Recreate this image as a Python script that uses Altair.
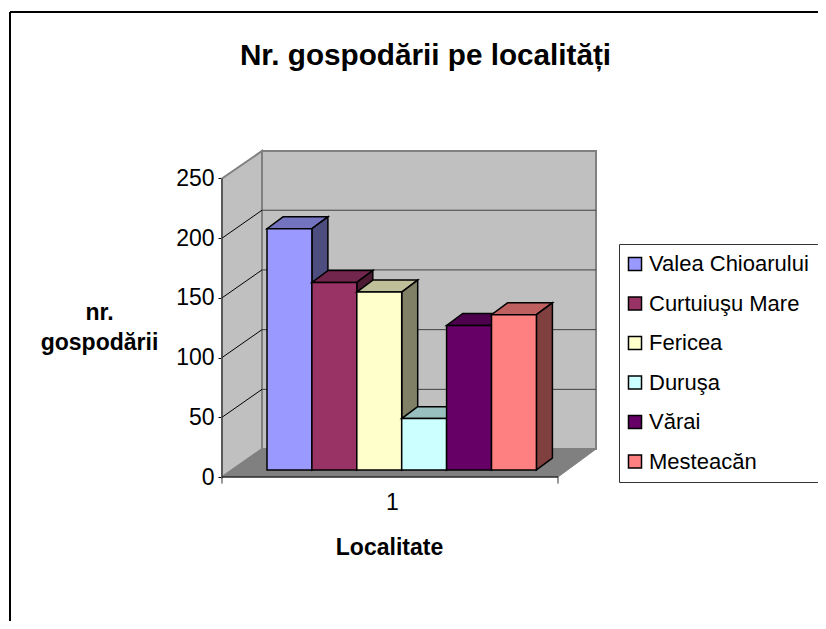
import altair as alt

title_text = "Nr. gospodării pe localități"
categories = ["Valea Chioarului", "Curtuiuşu Mare", "Fericea", "Duruşa", "Vărai", "Mesteacăn"]
values = [202, 157, 149, 43, 121, 130]
front_colors = ["#9999FF", "#993366", "#FFFFCC", "#CCFFFF", "#660066", "#FF8080"]
top_colors = ["#7373BF", "#73264D", "#BFBF99", "#99BFBF", "#4D004D", "#BF6060"]
side_colors = ["#4D4D80", "#4D1A33", "#808066", "#668080", "#330033", "#804040"]
y_ticks = [0, 50, 100, 150, 200, 250]
x_tick_labels = ["1"]

FONT = "Liberation Sans"
W, H = 374, 326          # plot area: left wall front corner to back wall corner
X_MAX, Y_MAX = 374, 273
FLOOR_X = 336            # front edge of the floor
WALL_DX, WALL_DY = 40, 23.4   # depth of the box
BAR_START, BAR_W = 45, 44.9
BAR_BASE = 5.9           # bars stand this far above the front of the floor
BAR_DX, BAR_DY = 16, 10
TOTAL_W, TOTAL_H = 810, 613
PAD_L, PAD_T = 214, 143

x_scale = alt.Scale(domain=[0, X_MAX], nice=False, zero=False)
y_scale = alt.Scale(domain=[0, Y_MAX], nice=False, zero=False)
fill_scale = alt.Scale(domain=categories, range=front_colors)

x_axis = alt.Axis(
    values=[170], labelExpr="'" + x_tick_labels[0] + "'", ticks=False, domain=False, grid=False,
    labelFont=FONT, labelFontSize=23, labelColor="black", labelPadding=14, labelAngle=0,
    title="Localitate", titleFont=FONT, titleFontSize=23, titleFontWeight="bold", titleColor="black",
    titleX=167, titleY=70, titleAlign="center", titleBaseline="middle",
)
y_axis = alt.Axis(
    values=y_ticks, domain=False, grid=False, ticks=True, tickSize=4, tickColor="black",
    tickWidth=1, labelFont=FONT, labelFontSize=23, labelColor="black", labelPadding=4,
    title=["nr.", "gospodării"], titleFont=FONT, titleFontSize=23, titleFontWeight="bold",
    titleColor="black", titleAngle=0, titleAlign="center", titleBaseline="middle",
    titleX=-123, titleY=161, titleLineHeight=30,
)


def X(field="x"):
    return alt.X(f"{field}:Q", scale=x_scale, axis=x_axis)


def Y(field="y"):
    return alt.Y(f"{field}:Q", scale=y_scale, axis=y_axis)


layers = []

# page frame of the chart
px_left, px_right = -(222 - 10), 818 - 222
unit = H / Y_MAX
y_top, y_bot = (477 - 12) / unit, (477 - 621) / unit
layers.append(
    alt.Chart(alt.Data(values=[{"x": px_left, "y": y_top, "y2": y_bot}]))
    .mark_rule(color="black", strokeWidth=2)
    .encode(x=X(), y=Y(), y2="y2:Q")
)
layers.append(
    alt.Chart(alt.Data(values=[{"x": px_left, "x2": px_right, "y": y_top}]))
    .mark_rule(color="black", strokeWidth=2)
    .encode(x=X(), x2="x2:Q", y=Y())
)
# chart title
layers.append(
    alt.Chart(alt.Data(values=[{"x": 203.5, "y": (477 - 56) / unit, "t": title_text}]))
    .mark_text(font=FONT, fontSize=29.7, fontWeight="bold", color="black", align="center", baseline="middle")
    .encode(x=X(), y=Y(), text="t:N")
)

# back wall
layers.append(
    alt.Chart(alt.Data(values=[{"x": WALL_DX, "x2": X_MAX, "y": WALL_DY, "y2": Y_MAX}]))
    .mark_rect(fill="#C0C0C0", stroke="#808080", strokeWidth=2)
    .encode(x=X(), x2="x2:Q", y=Y(), y2="y2:Q")
)
# left wall
layers.append(
    alt.Chart(alt.Data(values=[
        {"x": 0, "y": 0, "y2": y_ticks[-1]},
        {"x": WALL_DX, "y": WALL_DY, "y2": Y_MAX},
    ]))
    .mark_area(fill="#C0C0C0", stroke="#808080", strokeWidth=2)
    .encode(x=X(), y=Y(), y2="y2:Q")
)
# floor
layers.append(
    alt.Chart(alt.Data(values=[
        {"x": 0, "x2": FLOOR_X, "y": 0},
        {"x": WALL_DX, "x2": X_MAX, "y": WALL_DY},
    ]))
    .mark_area(orient="horizontal", fill="#808080", stroke="#808080", strokeWidth=1)
    .encode(x=X(), x2="x2:Q", y=Y())
)
# gridlines on both walls
wall_lines = []
for v in y_ticks[1:-1]:
    wall_lines.append({"v": v, "x": 0, "y": v})
    wall_lines.append({"v": v, "x": WALL_DX, "y": v + WALL_DY})
layers.append(
    alt.Chart(alt.Data(values=wall_lines))
    .mark_line(color="black", strokeWidth=1)
    .encode(x=X(), y=Y(), detail="v:Q")
)
layers.append(
    alt.Chart(alt.Data(values=[{"x": WALL_DX, "x2": X_MAX, "y": v + WALL_DY} for v in y_ticks[1:-1]]))
    .mark_rule(color="#404040", strokeWidth=1)
    .encode(x=X(), x2="x2:Q", y=Y())
)
# left axis line, front floor edge and its end ticks
layers.append(
    alt.Chart(alt.Data(values=[{"x": 0, "y": -5.5, "y2": y_ticks[-1]}, {"x": FLOOR_X, "y": -5.5, "y2": 0}]))
    .mark_rule(color="#333333", strokeWidth=1)
    .encode(x=X(), y=Y(), y2="y2:Q")
)
layers.append(
    alt.Chart(alt.Data(values=[{"x": 0, "x2": FLOOR_X, "y": 0}]))
    .mark_rule(color="black", strokeWidth=1)
    .encode(x=X(), x2="x2:Q", y=Y())
)

# bars: each one paints its top, its side, then its front
legend = alt.Legend(
    title=None, orient="none", legendX=619 - 222, legendY=244 - 151,
    labelFont=FONT, labelFontSize=22, labelColor="black", labelLimit=400, labelOffset=3,
    symbolType="square", symbolSize=170, symbolStrokeColor="black", symbolStrokeWidth=1.5,
    symbolOffset=-4, rowPadding=17.5, padding=9, strokeColor="#333333", fillColor="white",
)
for i, (name, val) in enumerate(zip(categories, values)):
    x0 = BAR_START + i * BAR_W
    x1 = x0 + BAR_W
    top = val + BAR_BASE
    layers.append(
        alt.Chart(alt.Data(values=[
            {"x": x0, "x2": x1, "y": top},
            {"x": x0 + BAR_DX, "x2": x1 + BAR_DX, "y": top + BAR_DY},
        ]))
        .mark_area(orient="horizontal", fill=top_colors[i], stroke="black", strokeWidth=1.5)
        .encode(x=X(), x2="x2:Q", y=Y())
    )
    layers.append(
        alt.Chart(alt.Data(values=[
            {"x": x1, "y": BAR_BASE, "y2": top},
            {"x": x1 + BAR_DX, "y": BAR_BASE + BAR_DY, "y2": top + BAR_DY},
        ]))
        .mark_area(fill=side_colors[i], stroke="black", strokeWidth=1.5)
        .encode(x=X(), y=Y(), y2="y2:Q")
    )
    layers.append(
        alt.Chart(alt.Data(values=[{"cat": name, "x": x0, "x2": x1, "y": BAR_BASE, "y2": top}]))
        .mark_rect(stroke="black", strokeWidth=1.5)
        .encode(
            x=X(), x2="x2:Q", y=Y(), y2="y2:Q",
            fill=alt.Fill("cat:N", scale=fill_scale, legend=legend, sort=categories),
        )
    )

chart = alt.layer(*layers).properties(
    width=W,
    height=H,
    autosize=alt.AutoSizeParams(type="none"),
    padding={"left": PAD_L, "top": PAD_T, "right": TOTAL_W - PAD_L - W, "bottom": TOTAL_H - PAD_T - H},
    background="white",
).configure_view(stroke=None)

chart.save("out.html", embed_options={"renderer": "svg", "actions": False})
